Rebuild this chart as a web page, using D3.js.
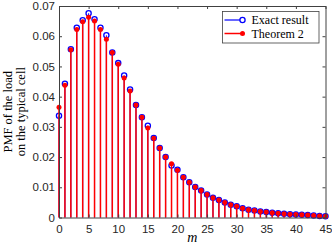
<!DOCTYPE html>
<html>
<head>
<meta charset="utf-8">
<script src="https://cdn.jsdelivr.net/npm/d3@7"></script>
<style>
  body { margin: 0; background: #fff; }
  svg { display: block; }
</style>
</head>
<body>
<script>
// data
const mVals = [0,1,2,3,4,5,6,7,8,9,10,11,12,13,14,15,16,17,18,19,20,21,22,23,24,25,26,27,28,29,30,31,32,33,34,35,36,37,38,39,40,41,42,43,44,45];
const exact = [0.0337,0.0443,0.0557,0.0628,0.0653,0.0676,0.0656,0.0628,0.0603,0.0546,0.0511,0.0470,0.0424,0.0372,0.0332,0.0304,0.0263,0.0230,0.0200,0.0172,0.0158,0.0133,0.0117,0.0101,0.0089,0.0076,0.0065,0.0058,0.0050,0.0042,0.0037,0.0031,0.0026,0.0023,0.0020,0.0018,0.0016,0.0014,0.0012,0.0011,0.0010,0.0009,0.0008,0.0007,0.0005,0.0004];
const theorem = [0.0365,0.0438,0.0555,0.0622,0.0648,0.0663,0.0650,0.0622,0.0590,0.0546,0.0507,0.0462,0.0419,0.0372,0.0332,0.0296,0.0262,0.0230,0.0200,0.0178,0.0156,0.0133,0.0117,0.0101,0.0089,0.0076,0.0065,0.0058,0.0050,0.0042,0.0037,0.0031,0.0026,0.0023,0.0020,0.0018,0.0016,0.0014,0.0012,0.0011,0.0010,0.0009,0.0008,0.0007,0.0005,0.0004];
const xTicks = [0,5,10,15,20,25,30,35,40,45];
const yTicks = [0,0.01,0.02,0.03,0.04,0.05,0.06,0.07];
const legendLabels = ["Exact result", "Theorem 2"];

const width = 332, height = 250;
const margin = { top: 6, right: 6.5, bottom: 32.5, left: 59 };

const svg = d3.select("body").append("svg")
  .attr("width", width).attr("height", height);

const x = d3.scaleLinear().domain([0, 45])
  .range([margin.left, width - margin.right]);
const y = d3.scaleLinear().domain([0, 0.07])
  .range([height - margin.bottom, margin.top]);

const axisColor = "#404040";
const serif = "'Liberation Serif', 'Times New Roman', serif";
const sans = "'Liberation Sans', Arial, sans-serif";

// stems + markers: exact (blue)
const g1 = svg.append("g");
g1.selectAll("line").data(mVals).enter().append("line")
  .attr("x1", (d) => x(d)).attr("x2", (d) => x(d))
  .attr("y1", y(0)).attr("y2", (d, i) => y(exact[i]))
  .attr("stroke", "#0000ff").attr("stroke-width", 1);

// theorem (red) stems
const g2 = svg.append("g");
g2.selectAll("line").data(mVals).enter().append("line")
  .attr("x1", (d) => x(d)).attr("x2", (d) => x(d))
  .attr("y1", y(0)).attr("y2", (d, i) => y(theorem[i]))
  .attr("stroke", "#ff0000").attr("stroke-width", 1.5);

g1.selectAll("circle").data(mVals).enter().append("circle")
  .attr("cx", (d) => x(d)).attr("cy", (d, i) => y(exact[i])).attr("r", 2.6)
  .attr("fill", "none").attr("stroke", "#0000ff").attr("stroke-width", 1.3);

g2.selectAll("circle").data(mVals).enter().append("circle")
  .attr("cx", (d) => x(d)).attr("cy", (d, i) => y(theorem[i])).attr("r", 2.5)
  .attr("fill", "#ff0000");

// axes (ticks pointing inward)
const fmtY = (d) => d === 0 ? "0" : d.toFixed(2);

function styleAxis(g) {
  g.select(".domain").attr("stroke", axisColor);
  g.selectAll(".tick line").attr("stroke", axisColor);
  g.selectAll(".tick text").attr("fill", "#262626")
    .style("font-family", sans).style("font-size", "11.5px");
}

svg.append("g")
  .attr("transform", `translate(0, ${y(0)})`)
  .call(d3.axisBottom(x).tickValues(xTicks).tickSize(-3).tickSizeOuter(0).tickPadding(7.5))
  .call(styleAxis);
svg.append("g")
  .attr("transform", `translate(0, ${y(0.07)})`)
  .call(d3.axisTop(x).tickValues(xTicks).tickSize(-3).tickSizeOuter(0).tickFormat(""))
  .call(styleAxis);
svg.append("g")
  .attr("transform", `translate(${x(0)}, 0)`)
  .call(d3.axisLeft(y).tickValues(yTicks).tickSize(-3).tickSizeOuter(0).tickPadding(4).tickFormat(fmtY))
  .call(styleAxis);
svg.append("g")
  .attr("transform", `translate(${x(45)}, 0)`)
  .call(d3.axisRight(y).tickValues(yTicks).tickSize(-3).tickSizeOuter(0).tickFormat(""))
  .call(styleAxis);

// axis labels
svg.append("text")
  .attr("x", (x(0) + x(45)) / 2).attr("y", 242)
  .attr("text-anchor", "middle")
  .style("font-family", serif).style("font-style", "italic").style("font-size", "14px")
  .text("m");

const cy = (y(0) + y(0.07)) / 2;
svg.append("text")
  .attr("transform", `translate(11.5, ${cy}) rotate(-90)`)
  .attr("text-anchor", "middle")
  .style("font-family", serif).style("font-size", "12.5px")
  .text("PMF of the load");
svg.append("text")
  .attr("transform", `translate(25, ${cy}) rotate(-90)`)
  .attr("text-anchor", "middle")
  .style("font-family", serif).style("font-size", "12.5px")
  .text("on the typical cell");

// legend
const leg = svg.append("g");
leg.append("rect")
  .attr("x", 222.5).attr("y", 11.5).attr("width", 96.5).attr("height", 31.5)
  .attr("fill", "#fff").attr("stroke", axisColor).attr("stroke-width", 0.8);

const legColors = ["#0000ff", "#ff0000"];
legendLabels.forEach((lab, i) => {
  const ly = 20 + i * 13.5;
  leg.append("line")
    .attr("x1", 224.5).attr("x2", 242.5).attr("y1", ly).attr("y2", ly)
    .attr("stroke", legColors[i]).attr("stroke-width", i === 0 ? 1.2 : 1.5);
  if (i === 0) {
    leg.append("circle").attr("cx", 242.5).attr("cy", ly).attr("r", 2.6)
      .attr("fill", "#fff").attr("stroke", legColors[i]).attr("stroke-width", 1.3);
  } else {
    leg.append("circle").attr("cx", 242.5).attr("cy", ly).attr("r", 2.5)
      .attr("fill", legColors[i]);
  }
  leg.append("text")
    .attr("x", 251.5).attr("y", ly + 4.2)
    .style("font-family", serif).style("font-size", "12px")
    .text(lab);
});
</script>
</body>
</html>
